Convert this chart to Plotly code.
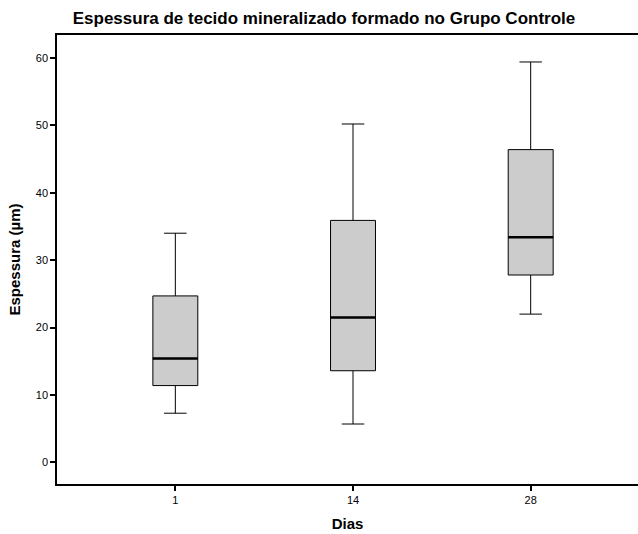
import plotly.graph_objects as go

categories = ["1", "14", "28"]
lower_whisker = [7.3, 5.7, 22.0]
q1 = [11.4, 13.6, 27.8]
median = [15.4, 21.5, 33.4]
q3 = [24.7, 35.9, 46.4]
upper_whisker = [34.0, 50.2, 59.4]
y_ticks = [0, 10, 20, 30, 40, 50, 60]

xpos = list(range(len(categories)))
box_w = 0.253

fig = go.Figure()
fig.add_trace(go.Box(
    x=xpos, q1=q1, median=median, q3=q3,
    lowerfence=lower_whisker, upperfence=upper_whisker,
    width=box_w, whiskerwidth=0.5,
    fillcolor="#cccccc",
    line=dict(color="black", width=1),
    boxpoints=False, showlegend=False, hoverinfo="skip",
))
# thicker median lines
for i, m in zip(xpos, median):
    fig.add_trace(go.Scatter(
        x=[i - box_w / 2, i + box_w / 2], y=[m, m], mode="lines",
        line=dict(color="black", width=2.5), showlegend=False, hoverinfo="skip",
    ))

fig.update_layout(
    width=638, height=534,
    margin=dict(l=57, r=0, t=35, b=50),
    paper_bgcolor="white", plot_bgcolor="white",
    font=dict(family="Liberation Sans, Arial, sans-serif", color="black"),
    title=dict(
        text="<b>Espessura de tecido mineralizado formado no Grupo Controle</b>",
        x=324 / 638, xref="container", xanchor="center",
        y=1 - 18 / 534, yref="container", yanchor="middle",
        font=dict(size=17, color="black"),
    ),
)
fig.update_xaxes(
    range=[-0.666, 2.604], tickvals=xpos, ticktext=categories,
    showline=True, linecolor="black", linewidth=1.5, mirror=True,
    ticks="outside", ticklen=5, tickcolor="black", tickwidth=1.5,
    showgrid=False, zeroline=False,
    tickfont=dict(size=11),
    title=dict(text="<b>Dias</b>", font=dict(size=15), standoff=14),
)
fig.update_yaxes(
    range=[-3.2, 63.4], tickvals=y_ticks,
    showline=True, linecolor="black", linewidth=1.5,
    ticks="outside", ticklen=5, tickcolor="black", tickwidth=1.5,
    showgrid=False, zeroline=False,
    tickfont=dict(size=11),
    title=dict(text="<b>Espessura (µm)</b>", font=dict(size=15), standoff=12),
)

fig.write_html("out.html")
